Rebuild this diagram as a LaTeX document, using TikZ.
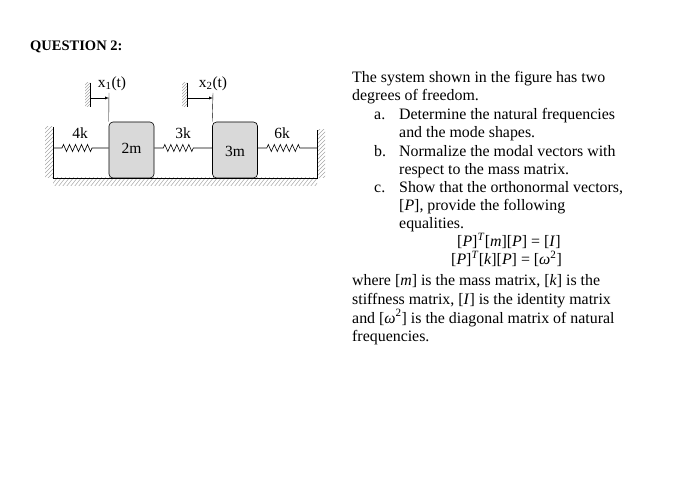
\documentclass[tikz,border=0pt]{standalone}
\usepackage{fontspec}
\setmainfont{Liberation Serif}
\usetikzlibrary{decorations.pathmorphing}
\newcommand{\iv}[1]{\textit{#1}}
\begin{document}
\begin{tikzpicture}[x=1pt,y=-1pt,
  txt/.style={anchor=base west,inner sep=0pt,font=\fontsize{15.9}{17}\selectfont},
  lbl/.style={inner sep=0pt,font=\fontsize{15.5}{16}\selectfont},
  mass/.style={draw,semithick,rounded corners=4pt,fill=gray!30,minimum width=45pt,minimum height=56pt,inner sep=0pt},
  spr/.style={semithick,decorate,decoration={zigzag,amplitude=3.5pt,segment length=6pt,pre length=9pt,post length=16pt}},
  hatch/.style={gray!70,line width=0.5pt}]
\useasboundingbox (0,0) rectangle (677,494);
\node[anchor=base west,inner sep=0pt,font=\bfseries\fontsize{14.5}{16}\selectfont] (q) at (30,51) {QUESTION 2:};
% hatching
\begin{scope}
\clip (53,178) rectangle (317,186);
\foreach \i in {0,4,...,280} \draw[hatch] (50+\i,187) -- (58+\i,177);
\end{scope}
\begin{scope}
\clip (45,127) rectangle (53,178);
\foreach \i in {0,4,...,60} \draw[hatch] (44,130+\i) -- (54,120+\i);
\end{scope}
\begin{scope}
\clip (317,130) rectangle (325,178);
\foreach \i in {0,4,...,60} \draw[hatch] (316,133+\i) -- (326,123+\i);
\end{scope}
\begin{scope}
\clip (85,83) rectangle (90,107);
\foreach \i in {0,3,...,30} \draw[hatch] (84,86+\i) -- (91,79+\i);
\end{scope}
\begin{scope}
\clip (182,83) rectangle (187,107);
\foreach \i in {0,3,...,30} \draw[hatch] (181,86+\i) -- (188,79+\i);
\end{scope}
\draw[semithick] (53,127) -- (53,178) -- (317,178) -- (317,130);
\draw (90,83) -- (90,107);
\draw (187,83) -- (187,107);
\node[mass] (m1) at (131.5,150) {};
\node[mass] (m2) at (235,150) {};
\node[lbl] at (131.5,148) {2m};
\node[lbl] at (235,151) {3m};
\coordinate (w1) at (53,148);
\coordinate (w2) at (317,148);
\draw[spr] (w1) -- (m1.west |- w1);
\draw[spr] (m1.east |- w1) -- (m2.west |- w1);
\draw[spr] (m2.east |- w1) -- (w2);
\node[lbl] at (80,133) {4k};
\node[lbl] at (183,133) {3k};
\node[lbl] at (282,133) {6k};
\draw (m1.north west) -- (109,93);
\draw (m2.north west) -- (213,93);
\draw[-latex] (90,98) -- (109,98);
\draw[-latex] (187,98) -- (213,98);
\node[lbl,anchor=south] at (112,91) {x\textsubscript{1}(t)};
\node[lbl,anchor=south] at (213,91) {x\textsubscript{2}(t)};
% text
\node[txt] at (352,82.7) {The system shown in the figure has two};
\node[txt] at (352,100.7) {degrees of freedom.};
\node[txt] at (374,119.3) {a.};
\node[txt] at (399,119.3) {Determine the natural frequencies};
\node[txt] at (399,137.3) {and the mode shapes.};
\node[txt] at (374,156.7) {b.};
\node[txt] at (399,156.7) {Normalize the modal vectors with};
\node[txt] at (399,174.3) {respect to the mass matrix.};
\node[txt] at (374,192.3) {c.};
\node[txt] at (399,192.3) {Show that the orthonormal vectors,};
\node[txt] at (399,210.7) {[\iv{P}], provide the following};
\node[txt] at (399,228.3) {equalities.};
\node[txt] at (457,246.7) {[\iv{P}]\textsuperscript{\iv{T}}[\iv{m}][\iv{P}] = [\iv{I}]};
\node[txt] at (451,265) {[\iv{P}]\textsuperscript{\iv{T}}[\iv{k}][\iv{P}] = [\iv{ω}\textsuperscript{2}]};
\node[txt] at (352,285.7) {where [\iv{m}] is the mass matrix, [\iv{k}] is the};
\node[txt] at (352,304.3) {stiffness matrix, [\iv{I}] is the identity matrix};
\node[txt] at (352,323) {and [\iv{ω}\textsuperscript{2}] is the diagonal matrix of natural};
\node[txt] at (352,341) {frequencies.};
\end{tikzpicture}
\end{document}
